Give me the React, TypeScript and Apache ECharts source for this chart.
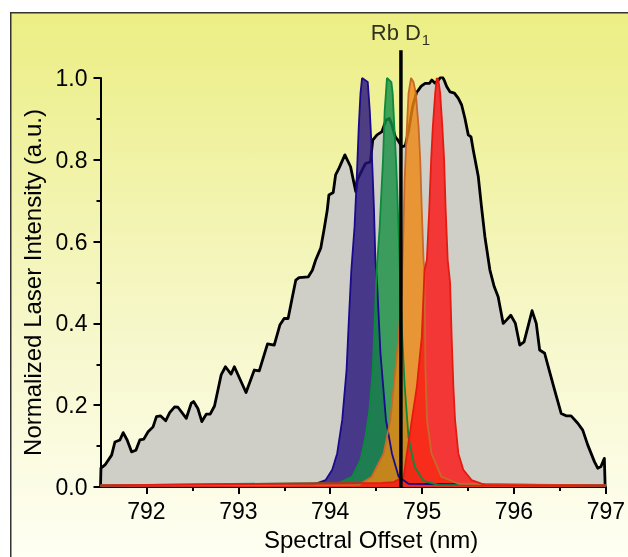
import React, { useEffect, useRef } from "react";
import * as echarts from "echarts";

// Broad laser spectrum (gray)
const grayX = [791.5, 791.505, 791.549, 791.621, 791.657, 791.711, 791.747, 791.79, 791.838, 791.885, 791.928, 791.971, 792.018, 792.072, 792.109, 792.152, 792.21, 792.253, 792.307, 792.343, 792.434, 792.488, 792.513, 792.56, 792.603, 792.651, 792.694, 792.741, 792.813, 792.86, 792.921, 792.957, 793.084, 793.174, 793.228, 793.318, 793.391, 793.452, 793.499, 793.542, 793.589, 793.626, 793.661, 793.762, 793.806, 793.842, 793.897, 793.932, 793.968, 793.986, 794.033, 794.059, 794.095, 794.16, 794.222, 794.257, 794.279, 794.293, 794.347, 794.384, 794.438, 794.463, 794.51, 794.564, 794.607, 794.644, 794.672, 794.709, 794.737, 794.781, 794.817, 794.853, 794.897, 794.94, 794.962, 794.991, 795.034, 795.081, 795.106, 795.142, 795.178, 795.214, 795.24, 795.268, 795.305, 795.352, 795.395, 795.431, 795.467, 795.503, 795.533, 795.557, 795.612, 795.647, 795.684, 795.738, 795.785, 795.828, 795.883, 795.918, 795.966, 796.016, 796.063, 796.11, 796.153, 796.197, 796.243, 796.28, 796.334, 796.388, 796.443, 796.514, 796.568, 796.622, 796.695, 796.749, 796.803, 796.876, 796.912, 796.947, 796.984, 796.993, 797.0];
const grayY = [0, 0.046, 0.054, 0.078, 0.11, 0.115, 0.133, 0.115, 0.086, 0.09, 0.115, 0.117, 0.135, 0.147, 0.172, 0.174, 0.162, 0.182, 0.196, 0.195, 0.168, 0.205, 0.209, 0.192, 0.16, 0.178, 0.178, 0.198, 0.274, 0.294, 0.276, 0.294, 0.231, 0.286, 0.284, 0.35, 0.347, 0.396, 0.412, 0.412, 0.465, 0.506, 0.512, 0.514, 0.53, 0.555, 0.584, 0.628, 0.677, 0.714, 0.72, 0.763, 0.779, 0.812, 0.783, 0.745, 0.722, 0.75, 0.775, 0.791, 0.795, 0.848, 0.861, 0.869, 0.897, 0.901, 0.885, 0.856, 0.848, 0.832, 0.834, 0.87, 0.93, 0.965, 0.971, 0.98, 0.987, 0.987, 0.995, 0.987, 0.995, 1.005, 0.995, 0.979, 0.966, 0.963, 0.95, 0.934, 0.901, 0.861, 0.856, 0.824, 0.759, 0.685, 0.612, 0.531, 0.49, 0.465, 0.4, 0.408, 0.42, 0.4, 0.347, 0.355, 0.392, 0.431, 0.4, 0.335, 0.327, 0.282, 0.237, 0.18, 0.174, 0.174, 0.156, 0.139, 0.103, 0.062, 0.046, 0.05, 0.07, 0.0, 0.0];

// Narrow filtered lines
const blueX = [791.5, 793.806, 793.951, 794.022, 794.076, 794.131, 794.178, 794.203, 794.23, 794.265, 794.282, 794.297, 794.311, 794.33, 794.347, 794.409, 794.431, 794.449, 794.463, 794.477, 794.492, 794.51, 794.547, 794.607, 794.672, 794.745, 794.853, 797.0];
const blueY = [0.004, 0.005, 0.017, 0.042, 0.082, 0.164, 0.286, 0.408, 0.53, 0.636, 0.718, 0.8, 0.881, 0.963, 1.0, 0.99, 0.92, 0.84, 0.759, 0.677, 0.555, 0.5, 0.327, 0.164, 0.082, 0.025, 0.008, 0.004];

const greenX = [791.5, 794.095, 794.239, 794.33, 794.384, 794.427, 794.463, 794.485, 794.506, 794.539, 794.557, 794.575, 794.593, 794.618, 794.666, 794.68, 794.698, 794.716, 794.731, 794.756, 794.777, 794.81, 794.853, 794.918, 795.016, 795.178, 797.0];
const greenY = [0.004, 0.01, 0.025, 0.066, 0.123, 0.188, 0.286, 0.408, 0.53, 0.636, 0.72, 0.8, 0.92, 1.0, 0.99, 0.963, 0.881, 0.8, 0.718, 0.55, 0.4, 0.25, 0.12, 0.05, 0.015, 0.005, 0.004];

const orangeX = [791.5, 794.311, 794.452, 794.582, 794.655, 794.691, 794.745, 794.777, 794.794, 794.81, 794.835, 794.853, 794.88, 794.907, 794.932, 794.962, 794.98, 794.997, 795.016, 795.027, 795.032, 795.037, 795.054, 795.102, 795.211, 795.395, 797.0];
const orangeY = [0.004, 0.005, 0.025, 0.082, 0.164, 0.245, 0.367, 0.48, 0.6, 0.75, 0.88, 0.963, 1.0, 0.99, 0.963, 0.88, 0.8, 0.677, 0.555, 0.53, 0.4, 0.286, 0.164, 0.082, 0.025, 0.008, 0.004];

const redX = [791.5, 794.561, 794.691, 794.799, 794.835, 794.889, 794.943, 794.997, 795.027, 795.052, 795.078, 795.099, 795.117, 795.143, 795.16, 795.178, 795.197, 795.221, 795.24, 795.257, 795.279, 795.305, 795.322, 795.341, 795.359, 795.395, 795.449, 795.539, 795.684, 797.0];
const redY = [0.004, 0.01, 0.012, 0.025, 0.082, 0.164, 0.245, 0.367, 0.53, 0.555, 0.677, 0.8, 0.88, 0.963, 1.0, 0.995, 0.963, 0.88, 0.8, 0.677, 0.555, 0.5, 0.367, 0.245, 0.164, 0.082, 0.042, 0.017, 0.005, 0.004];

// Rb D1 marker
const rbD1X = 794.77;
const rbD1Top = 1.068;
const rbLabelMain = "Rb D";
const rbLabelSub = "1";

const xMajorTicks = [792, 793, 794, 795, 796, 797];
const xMinorTicks = [792.5, 793.5, 794.5, 795.5, 796.5];

const FONT = "'Liberation Sans', Arial, Helvetica, sans-serif";

const zip = (xs: number[], ys: number[]) => xs.map((x, i) => [x, ys[i]]);

const peak = (name: string, xs: number[], ys: number[], line: string, fill: string) => ({
  name,
  type: "line",
  data: zip(xs, ys),
  symbol: "none",
  smooth: false,
  z: 3,
  lineStyle: { color: line, width: 1.8 },
  areaStyle: { color: fill, opacity: 1 },
});

export default function App() {
  const ref = useRef<HTMLDivElement>(null);
  useEffect(() => {
    if (!ref.current) return;
    const chart = echarts.init(ref.current, null, { renderer: "svg" });
    chart.setOption({
      animation: false,
      textStyle: { fontFamily: FONT },
      graphic: [
        {
          type: "rect",
          left: 10,
          top: 12,
          z: -10,
          silent: true,
          shape: { width: 640, height: 560 },
          style: {
            fill: new echarts.graphic.LinearGradient(0, 0, 0, 1, [
              { offset: 0, color: "#ECEE84" },
              { offset: 0.55, color: "#F6F7C8" },
              { offset: 1, color: "#FFFFF6" },
            ]),
            stroke: "#333",
            lineWidth: 1.5,
          },
        },
      ],
      grid: { left: 100.5, right: 20.5, top: 78, bottom: 70 },
      xAxis: [
        {
          type: "value",
          min: 791.5,
          max: 797,
          position: "bottom",
          name: "Spectral Offset (nm)",
          nameLocation: "middle",
          nameGap: 40,
          nameTextStyle: { fontSize: 24, color: "#000", fontFamily: FONT, padding: [0, 0, 0, 36] },
          axisLine: { show: true, lineStyle: { color: "#000", width: 2 } },
          axisTick: { show: true, inside: false, length: 7, lineStyle: { color: "#000", width: 2 }, customValues: xMajorTicks },
          axisLabel: { show: true, fontSize: 23, color: "#000", margin: 12, fontFamily: FONT, customValues: xMajorTicks },
          splitLine: { show: false },
        },
        {
          type: "value",
          min: 791.5,
          max: 797,
          position: "bottom",
          axisLine: { show: false },
          axisTick: { show: true, inside: false, length: 4, lineStyle: { color: "#000", width: 2 }, customValues: xMinorTicks },
          axisLabel: { show: false },
          splitLine: { show: false },
        },
      ],
      yAxis: {
        type: "value",
        min: 0,
        max: 1,
        interval: 0.2,
        name: "Normalized Laser Intensity (a.u.)",
        nameLocation: "middle",
        nameGap: 56,
        nameTextStyle: { fontSize: 24, color: "#000", fontFamily: FONT },
        axisLine: { show: true, lineStyle: { color: "#000", width: 2 } },
        axisTick: { show: true, inside: false, length: 7, lineStyle: { color: "#000", width: 2 } },
        minorTick: { show: true, splitNumber: 2, length: 4, lineStyle: { color: "#000", width: 2 } },
        axisLabel: { fontSize: 23, color: "#000", margin: 13, fontFamily: FONT, formatter: (v: number) => v.toFixed(1) },
        splitLine: { show: false },
      },
      series: [
        {
          name: "Broadband",
          type: "line",
          data: zip(grayX, grayY),
          symbol: "none",
          z: 2,
          lineStyle: { color: "#000", width: 2.8, join: "round" },
          areaStyle: { color: "#CFCFC7", opacity: 1 },
        },
        peak("Blue", blueX, blueY, "#1A0A8C", "rgba(37,18,122,0.8)"),
        peak("Green", greenX, greenY, "#0A8A3A", "rgba(21,142,67,0.8)"),
        peak("Orange", orangeX, orangeY, "#C8692A", "rgba(238,135,16,0.8)"),
        peak("Red", redX, redY, "#E41C10", "rgba(250,21,22,0.82)"),
        {
          name: "Rb D1",
          type: "line",
          data: [
            [rbD1X, 0],
            [rbD1X, rbD1Top],
          ],
          symbol: "none",
          clip: false,
          z: 6,
          lineStyle: { color: "#000", width: 3.5 },
        },
        {
          name: "Rb D1 label",
          type: "scatter",
          data: [[rbD1X, rbD1Top]],
          symbolSize: 0,
          clip: false,
          z: 7,
          label: {
            show: true,
            position: "top",
            distance: 7,
            offset: [-5, 0],
            formatter: rbLabelMain,
            fontSize: 22,
            color: "#000",
            fontFamily: FONT,
          },
        },
        {
          name: "Rb D1 label sub",
          type: "scatter",
          data: [[rbD1X, rbD1Top]],
          symbolSize: 0,
          clip: false,
          z: 7,
          label: {
            show: true,
            position: "top",
            distance: 3,
            offset: [25, 0],
            formatter: rbLabelSub,
            fontSize: 15,
            color: "#000",
            fontFamily: FONT,
          },
        },
      ],
    });
    return () => chart.dispose();
  }, []);
  return <div ref={ref} style={{ position: "fixed", left: 0, top: 0, width: 628, height: 557 }} />;
}
